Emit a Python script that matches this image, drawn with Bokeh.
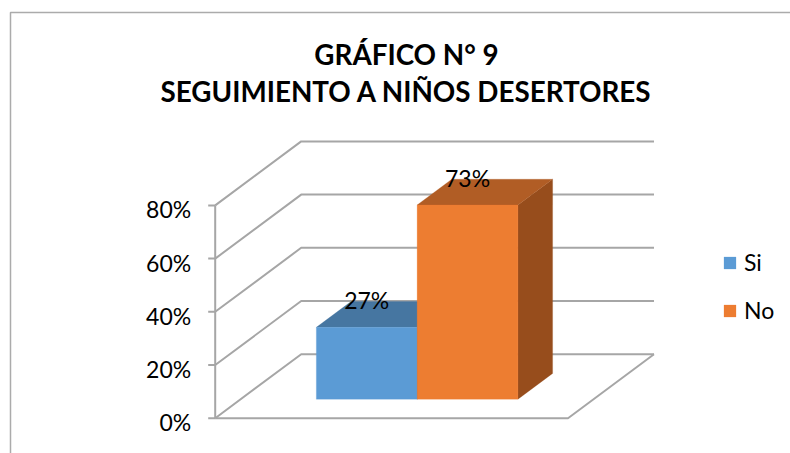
from bokeh.plotting import figure
from bokeh.embed import file_html
from bokeh.resources import INLINE
from bokeh.models import Range1d, FixedTicker, PrintfTickFormatter, Legend, LegendItem, LinearAxis
from bokeh.core.properties import value

title_lines = ["GRÁFICO N° 9", "SEGUIMIENTO A NIÑOS DESERTORES"]
categories = ["Si", "No"]
values = [27, 73]
labels = ["27%", "73%"]
ticks = [0, 20, 40, 60, 80]

FONT = value("Lato")
GRID = "#A6A6A6"
W, H = 790, 453
PX_X, PX_Y = 100.8, 2.66        # pixels per category, pixels per percent
X0_PAGE, Y0_PAGE = 340.7, 417.7  # page pixel of category 0 / value 0 at depth 0
DX, DY = 86 / PX_X, 64 / PX_Y    # shift from front to back wall
D0, D1 = 0.297, 0.70             # depth span of the bars
XL, XR = -1.25, 2.25             # floor extent in category units
LABEL_DROP = 4 / PX_Y            # tick labels sit a little below their ticks
TICK_LEN = 7 / PX_X


def P(x, v, d=0.0):
    return x + d * DX, v + d * DY


def page(px, py):
    return (px - X0_PAGE) / PX_X, (Y0_PAGE - py) / PX_Y


y0, y1 = (Y0_PAGE - H) / PX_Y, Y0_PAGE / PX_Y
p = figure(width=W, height=H, output_backend="svg", toolbar_location=None,
           x_range=Range1d((0 - X0_PAGE) / PX_X, (W - X0_PAGE) / PX_X),
           y_range=Range1d(y0, y1),
           x_axis_location=None, y_axis_location=None, min_border=0, outline_line_color=None,
           background_fill_color="white", border_fill_color="white")
p.grid.visible = False
p.extra_y_ranges = {"labels": Range1d(y0 + LABEL_DROP, y1 + LABEL_DROP)}

# chart frame
bx = [page(10, 453)[0], page(10, 12)[0], page(790, 12)[0]]
by = [page(10, 453)[1], page(10, 12)[1], page(790, 12)[1]]
p.line(bx, by, line_color="#ABABAB", line_width=1.5)

# walls and floor
for t in ticks:
    a, b, c = P(XL, t), P(XL, t, 1), P(XR, t, 1)
    p.line([a[0], b[0], c[0]], [a[1], b[1], c[1]], line_color=GRID, line_width=2)
    p.line([XL - TICK_LEN, XL], [t, t], line_color=GRID, line_width=2)
f = [P(XL, 0), P(XR, 0), P(XR, 0, 1)]
p.line([q[0] for q in f], [q[1] for q in f], line_color=GRID, line_width=2)
p.line([XL, XL], [ticks[0], ticks[-1]], line_color=GRID, line_width=2)

# y axis labels, placed at the front-left corner of the box
lab = LinearAxis(y_range_name="labels", fixed_location=XL, bounds=(0, 80),
                 ticker=FixedTicker(ticks=ticks), formatter=PrintfTickFormatter(format="%d%%"),
                 axis_line_color=None, major_tick_line_color=None, minor_tick_line_color=None,
                 major_tick_in=0, major_tick_out=7, major_label_standoff=17,
                 major_label_text_font="Lato", major_label_text_font_size="23px",
                 major_label_text_color="black")
p.add_layout(lab, "left")


def quad(pts, color):
    return p.patch([q[0] for q in pts], [q[1] for q in pts], fill_color=color,
                   line_color=color, line_width=0.25)


front_cols = ["#5B9BD5", "#ED7D31"]
top_cols = ["#4676A1", "#B15D25"]
side_cols = ["#3E6A93", "#974D1C"]
fronts = []
for i, v in enumerate(values):
    l, r = i - 0.5, i + 0.5
    quad([P(r, 0, D0), P(r, 0, D1), P(r, v, D1), P(r, v, D0)], side_cols[i])
    quad([P(l, v, D0), P(r, v, D0), P(r, v, D1), P(l, v, D1)], top_cols[i])
    fronts.append(quad([P(l, 0, D0), P(r, 0, D0), P(r, v, D0), P(l, v, D0)], front_cols[i]))

# data labels
for i, v in enumerate(values):
    x, y = P(i, v, D0)
    p.text([x], [y + 10.3], text=[labels[i]], text_font=FONT, text_font_size="23px",
           text_align="center", text_baseline="middle", text_color="black")

# title
for s, py in zip(title_lines, [53.5, 91]):
    x, y = page(406, py)
    p.text([x], [y], text=[s], text_font=FONT, text_font_size="27.8px", text_font_style="bold",
           text_align="center", text_baseline="middle", text_color="black")

legend = Legend(items=[LegendItem(label=c, renderers=[r]) for c, r in zip(categories, fronts)],
                location=(722, 129), orientation="vertical", glyph_width=15, glyph_height=15,
                spacing=20, padding=0, margin=0, label_standoff=7, border_line_color=None,
                background_fill_alpha=0, label_text_font="Lato",
                label_text_font_size="23px", label_text_color="black")
p.add_layout(legend)

open("out.html", "w").write(file_html(p, INLINE))
